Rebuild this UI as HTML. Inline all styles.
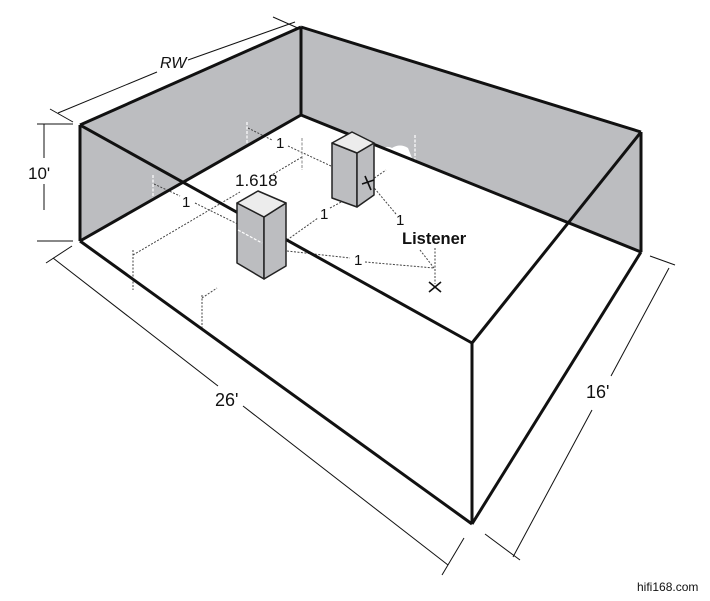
<!DOCTYPE html>
<html><head><meta charset="utf-8"><style>
html,body{margin:0;padding:0;background:#fff;}
svg{display:block;}
text{font-family:"Liberation Sans","DejaVu Sans",sans-serif;fill:#111;}
</style></head><body>
<svg width="710" height="601" viewBox="0 0 710 601" xmlns="http://www.w3.org/2000/svg">
<polygon points="80,125 301,27 301,115 80,241" fill="#bcbdc0"/>
<polygon points="301,27 641,132 641,252 301,115" fill="#bcbdc0"/>
<polygon points="80,241 301,115 641,252 472,343" fill="#fff"/>
<path d="M380,150 q6,-5 12,-2 q8,-5 16,0 l4,10 l-34,-3z" fill="#fff"/>
<g stroke="#444" stroke-width="1" stroke-dasharray="2,1.5" fill="none">
<line x1="248" y1="128" x2="272" y2="140"/>
<line x1="288" y1="146" x2="331" y2="166"/>
<line x1="133" y1="255" x2="240" y2="192"/>
<line x1="270" y1="176" x2="302" y2="157"/>
<line x1="154" y1="184" x2="180" y2="196"/>
<line x1="195" y1="203" x2="262" y2="236"/>
<line x1="287" y1="240" x2="318" y2="218"/>
<line x1="330" y1="208" x2="345" y2="200"/>
<line x1="287" y1="251" x2="350" y2="258"/>
<line x1="365" y1="262" x2="434" y2="268"/>
<line x1="370" y1="183" x2="396" y2="214"/>
<line x1="420" y1="250" x2="434" y2="268"/>
<line x1="435" y1="248" x2="435" y2="284"/>
<line x1="357" y1="190" x2="386" y2="170"/>
<line x1="202" y1="295" x2="202" y2="330"/>
<line x1="202" y1="298" x2="217" y2="288"/>
<line x1="133" y1="250" x2="133" y2="290"/>
<line x1="246" y1="268" x2="258" y2="262"/>
</g>
<g stroke="#fff" stroke-width="1.2" stroke-dasharray="3,1.5">
<line x1="247" y1="122" x2="247" y2="145"/>
<line x1="153" y1="175" x2="153" y2="200"/>
<line x1="415" y1="135" x2="415" y2="160"/>
</g>
<line x1="302" y1="138" x2="302" y2="170" stroke="#888" stroke-width="1" stroke-dasharray="3,1.5"/>
<g stroke="#111" stroke-width="3" fill="none" stroke-linejoin="round">
<line x1="80" y1="125" x2="301" y2="27"/>
<line x1="301" y1="27" x2="641" y2="132"/>
<line x1="80" y1="125" x2="80" y2="241"/>
<line x1="301" y1="27" x2="301" y2="115"/>
<line x1="641" y1="132" x2="641" y2="252"/>
<line x1="80" y1="241" x2="301" y2="115"/>
<line x1="301" y1="115" x2="641" y2="252"/>
<line x1="80" y1="125" x2="472" y2="343"/>
<line x1="472" y1="343" x2="641" y2="132"/>
<line x1="472" y1="343" x2="472" y2="524"/>
<line x1="80" y1="241" x2="472" y2="524"/>
<line x1="472" y1="524" x2="641" y2="252"/>
</g>
<g stroke="#222" stroke-width="1.5" stroke-linejoin="round">
<polygon points="237,203 264,217 264,279 237,263" fill="#bcbdc0"/>
<polygon points="264,217 286,203 286,266 264,279" fill="#bcbdc0"/>
<polygon points="237,203 258,191 286,203 264,217" fill="#ececec"/>
<polygon points="332,143 357,153 357,207 332,198" fill="#bcbdc0"/>
<polygon points="357,153 374,143 374,195 357,207" fill="#bcbdc0"/>
<polygon points="332,143 352,132 374,143 357,153" fill="#ececec"/>
</g>
<line x1="238" y1="230" x2="262" y2="243" stroke="#fff" stroke-width="1.2" stroke-dasharray="3,1.5"/>
<g stroke="#111" stroke-width="1.6">
<line x1="365" y1="176" x2="371" y2="190"/>
<line x1="362" y1="184" x2="374" y2="180"/>
<line x1="429" y1="282" x2="441" y2="292"/>
<line x1="441" y1="282" x2="429" y2="292"/>
</g>
<g stroke="#111" stroke-width="1" fill="none">
<line x1="58" y1="113" x2="157" y2="72"/>
<line x1="188" y1="60" x2="295" y2="22"/>
<line x1="50" y1="109" x2="73" y2="122"/>
<line x1="273" y1="17" x2="300" y2="29"/>
<line x1="44" y1="124" x2="44" y2="158"/>
<line x1="44" y1="184" x2="44" y2="210"/>
<line x1="37" y1="124" x2="73" y2="124"/>
<line x1="37" y1="241" x2="73" y2="241"/>
<line x1="53" y1="258" x2="218" y2="386"/>
<line x1="243" y1="406" x2="448" y2="565"/>
<line x1="46" y1="263" x2="72" y2="246"/>
<line x1="442" y1="575" x2="464" y2="538"/>
<line x1="513" y1="557" x2="592" y2="410"/>
<line x1="611" y1="376" x2="669" y2="268"/>
<line x1="485" y1="534" x2="520" y2="560"/>
<line x1="650" y1="256" x2="675" y2="265"/>
</g>
<text x="160" y="68" font-size="16" font-style="italic">RW</text>
<text x="28" y="179" font-size="17">10'</text>
<text x="215" y="406" font-size="18">26'</text>
<text x="586" y="398" font-size="18">16'</text>
<text x="235" y="186" font-size="17">1.618</text>
<g font-size="15">
<text x="276" y="148">1</text>
<text x="182" y="207">1</text>
<text x="320" y="219">1</text>
<text x="354" y="265">1</text>
<text x="396" y="225">1</text>
</g>
<text x="402" y="244" font-size="16.5" font-weight="bold" fill="#222">Listener</text>
<text x="637" y="591" font-size="12">hifi168.com</text>
</svg>
</body></html>
